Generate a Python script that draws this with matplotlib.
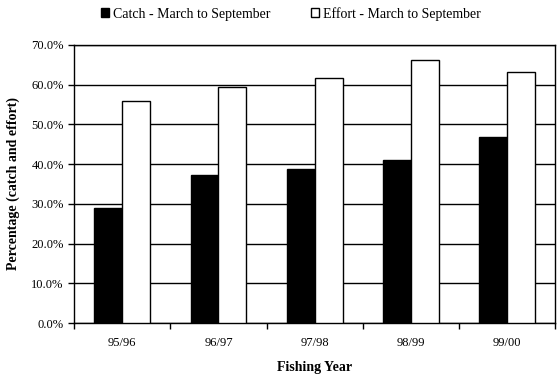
import matplotlib.pyplot as plt
import numpy as np

years = ['95/96', '96/97', '97/98', '98/99', '99/00']
catch = [28.9, 37.3, 38.8, 41.1, 46.9]
effort = [55.8, 59.4, 61.6, 66.2, 63.2]

plt.rcParams['font.family'] = ['Liberation Serif', 'DejaVu Serif']

fig = plt.figure(figsize=(5.57, 3.80), dpi=100)
ax = fig.add_axes([0.133, 0.15, 0.864, 0.732])

x = np.arange(len(years))
w = 0.29
ax.bar(x - w / 2, catch, w, color='black', edgecolor='black', linewidth=1,
       label='Catch - March to September', zorder=3)
ax.bar(x + w / 2, effort, w, color='white', edgecolor='black', linewidth=1,
       label='Effort - March to September', zorder=3)

ax.set_xlim(-0.5, len(years) - 0.5)
ax.set_ylim(0, 70)
ax.set_yticks(np.arange(0, 71, 10))
ax.set_yticklabels(['%.1f%%' % v for v in np.arange(0, 71, 10)], fontsize=9)
ax.yaxis.grid(True, color='black', linewidth=1, zorder=0)
ax.set_axisbelow(True)

ax.set_xticks(x)
ax.set_xticklabels(years, fontsize=9)
ax.tick_params(axis='x', length=0, pad=10)
ax.set_xticks(np.arange(-0.5, len(years)), minor=True)
ax.tick_params(axis='x', which='minor', length=4, direction='out', width=1)
ax.tick_params(axis='y', length=4, direction='out', width=1)
for s in ax.spines.values():
    s.set_linewidth(1)

ax.set_xlabel('Fishing Year', fontsize=10, fontweight='bold', labelpad=9)
ax.set_ylabel('Percentage (catch and effort)', fontsize=10, fontweight='bold', labelpad=8)

fig.legend(loc='upper center', bbox_to_anchor=(0.522, 1.015), ncol=2, frameon=False,
           fontsize=10, handlelength=0.6, handleheight=0.6, handletextpad=0.3,
           columnspacing=2.9)

fig.savefig('out.png', dpi=100)
